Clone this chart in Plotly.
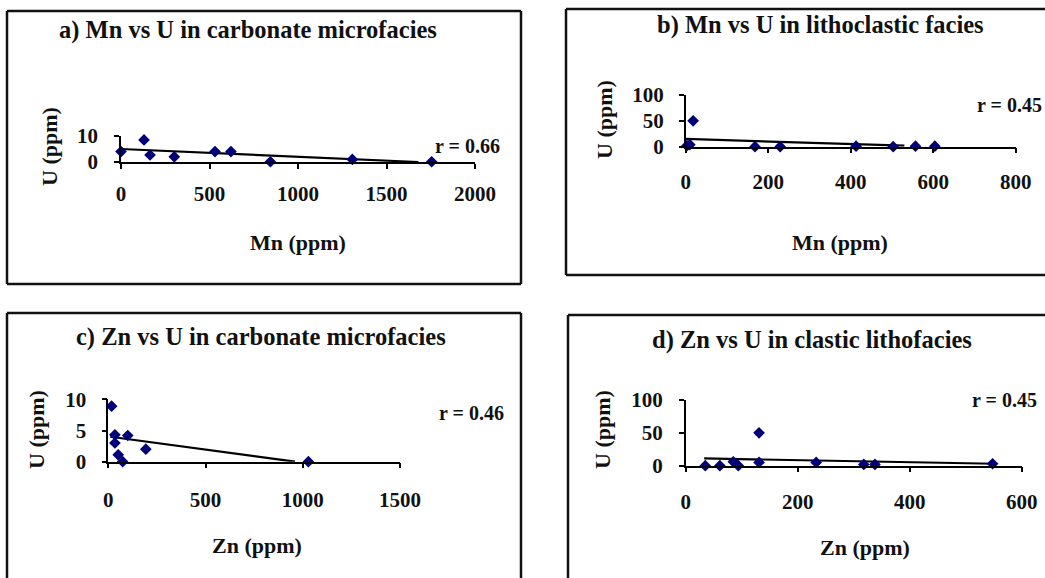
import plotly.graph_objects as go

# ---------------- data ----------------
# a) Mn vs U in carbonate microfacies
a_mn = [0, 130, 164, 301, 531, 621, 844, 1307, 1755]
a_u = [4.0, 8.5, 2.7, 2.0, 4.0, 4.0, 0.1, 1.0, 0.1]
a_trend_mn = [0, 1680]
a_trend_u = [5.0, 0.0]

# b) Mn vs U in lithoclastic facies
b_mn = [3, 10, 18, 168, 229, 413, 503, 557, 604]
b_u = [2, 4, 50, 0, 0, 1, 0, 1, 1]
b_trend_mn = [0, 530]
b_trend_u = [15, 2]

# c) Zn vs U in carbonate microfacies
c_zn = [17, 34, 34, 100, 51, 74, 193, 1029]
c_u = [8.9, 4.3, 3.0, 4.2, 1.1, 0.0, 2.0, 0.0]
c_trend_zn = [10, 960]
c_trend_u = [4.0, 0.0]

# d) Zn vs U in clastic lithofacies
d_zn = [35, 61, 85, 94, 131, 131, 233, 318, 338, 548]
d_u = [0, 0, 6, 0, 50, 5, 5, 2, 2, 3]
d_trend_zn = [33, 552]
d_trend_u = [11, 3]

titles = ["a) Mn vs U in carbonate microfacies",
          "b) Mn vs U in lithoclastic facies",
          "c) Zn vs U in carbonate microfacies",
          "d) Zn vs U in clastic lithofacies"]
x_titles = ["Mn (ppm)", "Mn (ppm)", "Zn (ppm)", "Zn (ppm)"]
y_title = "U (ppm)"
r_labels = ["r = 0.66", "r = 0.45", "r = 0.46", "r = 0.45"]

# ---------------- layout helpers ----------------
W, H = 1045, 578
def px(x):
    return min(max(x, 0), W) / W
def py(y):
    return 1 - min(max(y, 0), H) / H

FONT = "Liberation Serif, Times New Roman, serif"
NAVY = "#00007a"

panels = [
    dict(x=a_mn, y=a_u, tx=a_trend_mn, ty=a_trend_u,
         xpix=(121, 475), ypix=(162, 136), xr=[0, 2000], yr=[0, 10], xd=500, yd=10,
         box=(7, 11, 521, 284), title=(248, 30), xt=(298, 242), yt=(49, 147), r=(433, 146),
         xstand=7, ystand=12),
    dict(x=b_mn, y=b_u, tx=b_trend_mn, ty=b_trend_u,
         xpix=(685.7, 1015.7), ypix=(146.7, 95), xr=[0, 800], yr=[0, 100], xd=200, yd=50,
         box=(566, 9, 1060, 275), title=(820, 25), xt=(840, 242), yt=(605, 120), r=(975, 105),
         xstand=10, ystand=11),
    dict(x=c_zn, y=c_u, tx=c_trend_zn, ty=c_trend_u,
         xpix=(108.3, 400), ypix=(461.7, 399.3), xr=[0, 1500], yr=[0, 10], xd=500, yd=5,
         box=(7, 313, 521, 600), title=(261, 337), xt=(257, 545), yt=(36, 430), r=(437, 413),
         xstand=13, ystand=11),
    dict(x=d_zn, y=d_u, tx=d_trend_zn, ty=d_trend_u,
         xpix=(685.7, 1021.7), ypix=(465.7, 400), xr=[0, 600], yr=[0, 100], xd=200, yd=50,
         box=(568, 315, 1060, 600), title=(812, 340), xt=(865, 547), yt=(602, 430), r=(970, 400),
         xstand=11, ystand=12),
]

fig = go.Figure()
shapes = []
annotations = []
layout = {}

for i, p in enumerate(panels):
    n = "" if i == 0 else str(i + 1)
    xa, ya = "x" + n, "y" + n
    fig.add_trace(go.Scatter(x=p["tx"], y=p["ty"], mode="lines", xaxis=xa, yaxis=ya,
                             line=dict(color="black", width=2.2), cliponaxis=False,
                             showlegend=False, hoverinfo="skip"))
    fig.add_trace(go.Scatter(x=p["x"], y=p["y"], mode="markers", xaxis=xa, yaxis=ya,
                             marker=dict(symbol="diamond", size=9, color=NAVY),
                             cliponaxis=False, showlegend=False))
    common = dict(showline=True, linecolor="black", linewidth=1.5, ticks="outside",
                  ticklen=5, tickwidth=1.5, tickcolor="black", showgrid=False,
                  zeroline=False, tick0=0, automargin=False,
                  tickfont=dict(family=FONT, size=21, color="#111111", weight="bold"))
    layout["xaxis" + n] = dict(common, domain=[px(p["xpix"][0]), px(p["xpix"][1])],
                               range=p["xr"], dtick=p["xd"], anchor=ya,
                               ticklabelstandoff=p["xstand"])
    layout["yaxis" + n] = dict(common, domain=[py(p["ypix"][0]), py(p["ypix"][1])],
                               range=p["yr"], dtick=p["yd"], anchor=xa,
                               ticklabelstandoff=p["ystand"])
    # panel frame drawn as an open path so that it never leaves the paper
    x0, y0, x1, y1 = p["box"]
    segs = []
    segs.append(f"M{px(x0)},{py(y0)} L{px(x1)},{py(y0)}")
    segs.append(f"M{px(x0)},{py(y0)} L{px(x0)},{py(y1)}")
    if x1 <= W:
        segs.append(f"M{px(x1)},{py(y0)} L{px(x1)},{py(y1)}")
    if y1 <= H:
        segs.append(f"M{px(x0)},{py(y1)} L{px(x1)},{py(y1)}")
    shapes.append(dict(type="path", xref="paper", yref="paper", path=" ".join(segs),
                       line=dict(color="#111111", width=2.5)))
    annotations.append(dict(text=titles[i], x=px(p["title"][0]), y=py(p["title"][1]),
                            xref="paper", yref="paper", showarrow=False,
                            xanchor="center", yanchor="middle",
                            font=dict(family=FONT, size=24.5, color="#111111", weight="bold")))
    annotations.append(dict(text=x_titles[i], x=px(p["xt"][0]), y=py(p["xt"][1]),
                            xref="paper", yref="paper", showarrow=False,
                            xanchor="center", yanchor="middle",
                            font=dict(family=FONT, size=22, color="#111111", weight="bold")))
    annotations.append(dict(text=y_title, x=px(p["yt"][0]), y=py(p["yt"][1]),
                            xref="paper", yref="paper", showarrow=False, textangle=-90,
                            xanchor="center", yanchor="middle",
                            font=dict(family=FONT, size=22, color="#111111", weight="bold")))
    annotations.append(dict(text=r_labels[i], x=px(p["r"][0]), y=py(p["r"][1]),
                            xref="paper", yref="paper", showarrow=False,
                            xanchor="left", yanchor="middle",
                            font=dict(family=FONT, size=20, color="#111111", weight="bold")))

fig.update_layout(width=W, height=H, margin=dict(l=0, r=0, t=0, b=0, pad=0),
                  autosize=False, showlegend=False,
                  paper_bgcolor="white", plot_bgcolor="white",
                  shapes=shapes, annotations=annotations, **layout)

fig.write_html("out.html", config={"displayModeBar": False},
               post_script="document.body.style.margin='0';document.body.style.overflow='hidden';")
